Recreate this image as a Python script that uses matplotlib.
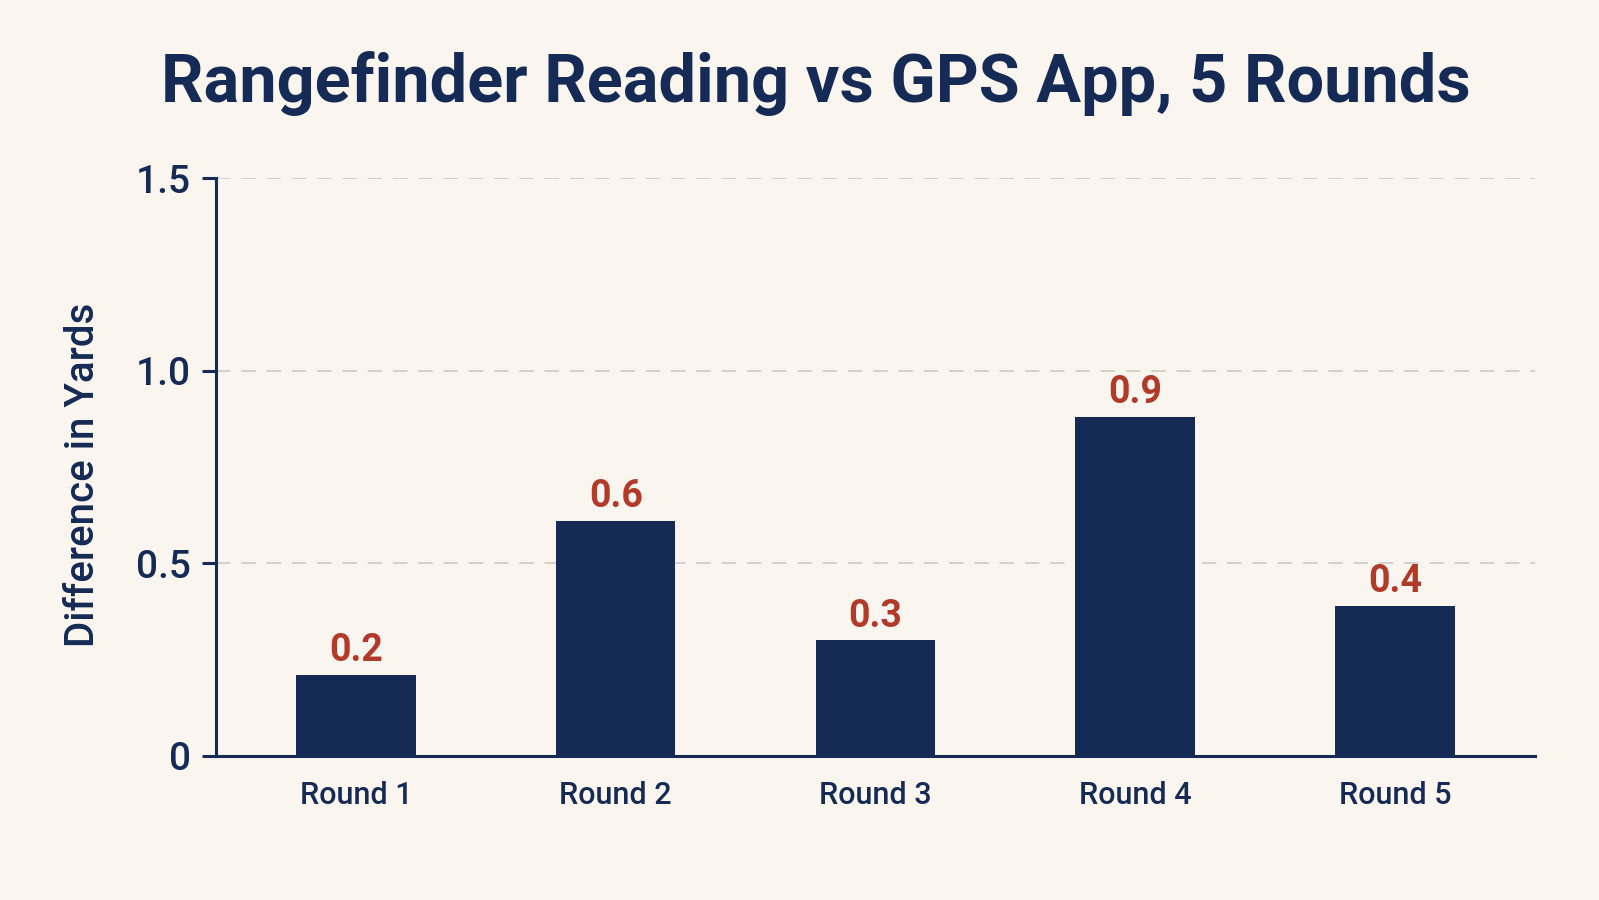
import matplotlib
matplotlib.use("Agg")
import matplotlib.pyplot as plt

plt.rcParams['font.family'] = ['Roboto', 'DejaVu Sans']

categories = ["Round 1", "Round 2", "Round 3", "Round 4", "Round 5"]
values = [0.21, 0.61, 0.30, 0.88, 0.39]
yticks = [0, 0.5, 1.0, 1.5]
ytick_labels = ["0", "0.5", "1.0", "1.5"]

bg = "#faf6ef"
navy = "#152a54"
red = "#b23a2a"

fig = plt.figure(figsize=(15.99, 9), dpi=100, facecolor=bg)
ax = fig.add_axes([0.135, 0.160, 0.825, 0.642])
ax.set_facecolor(bg)

x = list(range(len(categories)))
ax.bar(x, values, width=0.46, color=navy, zorder=3)
for xi, v in zip(x, values):
    ax.text(xi, v + 0.015, f"{v:.1f}", ha="center", va="bottom",
            color=red, fontsize=27, fontweight="bold", zorder=4)

ax.set_xlim(-0.54, len(categories) - 1 + 0.54)
ax.set_ylim(0, 1.5)
ax.set_yticks(yticks)
ax.set_yticklabels(ytick_labels)
ax.set_xticks(x)
ax.set_xticklabels(categories)
for lab in ax.get_yticklabels() + ax.get_xticklabels():
    lab.set_fontweight("medium")

ax.yaxis.grid(True, linestyle=(0, (8, 6)), color="#d2cec6", linewidth=1.3, zorder=0)
ax.set_axisbelow(True)

for s in ["top", "right"]:
    ax.spines[s].set_visible(False)
for s in ["left", "bottom"]:
    ax.spines[s].set_color(navy)
    ax.spines[s].set_linewidth(2.2)

ax.tick_params(axis="y", colors=navy, labelsize=28, length=10, width=2.2, pad=8)
ax.tick_params(axis="x", colors=navy, labelsize=22, length=0, pad=18)

ax.set_ylabel("Difference in Yards", fontsize=29, color=navy,
              fontweight="medium")
ax.yaxis.set_label_coords(-0.086, 0.487)

fig.text(0.51, 0.907, "Rangefinder Reading vs GPS App, 5 Rounds",
         ha="center", va="center", fontsize=48, fontweight="bold", color=navy)

fig.savefig("out.png", dpi=100, facecolor=bg)
